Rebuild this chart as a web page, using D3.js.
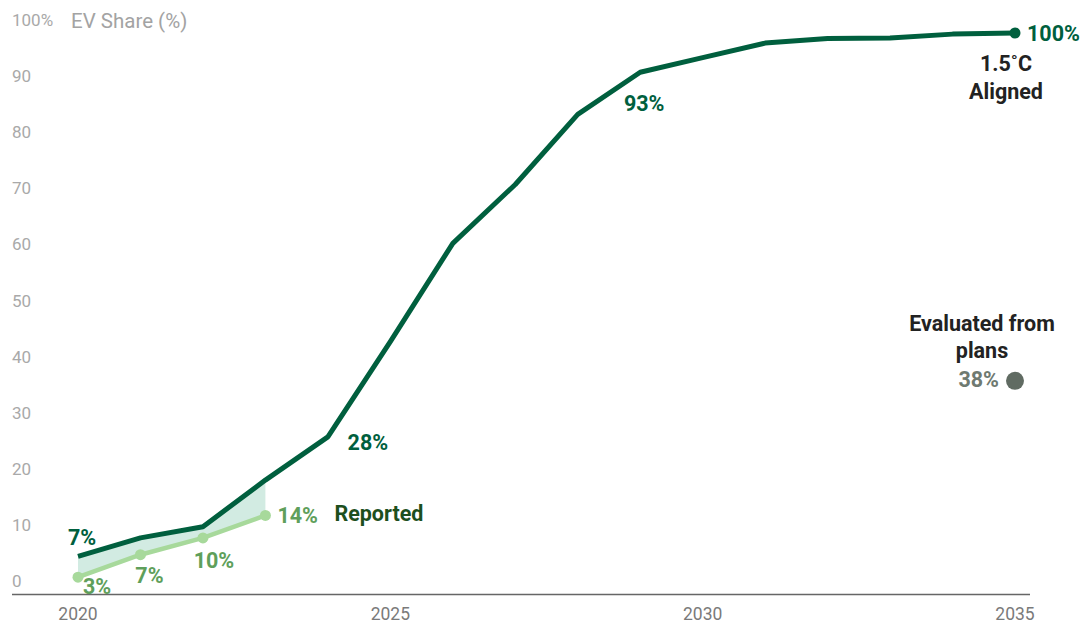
<!DOCTYPE html>
<html>
<head>
<meta charset="utf-8">
<script src="https://cdn.jsdelivr.net/npm/d3@7"></script>
<style>
  body { margin: 0; background: #fff; }
  svg { font-family: Roboto, "Noto Sans", sans-serif; }
</style>
</head>
<body>
<div id="chart"></div>
<script>
// 1.5C aligned pathway, 2020-2035
const years = [2020, 2021, 2022, 2023, 2024, 2025, 2026, 2027, 2028, 2029, 2030, 2031, 2032, 2033, 2034, 2035];
const aligned = [6.7, 10, 12, 20.3, 28, 45, 62.5, 73, 85.5, 93, 95.6, 98.2, 99, 99.1, 99.8, 100];
// reported EV share
const reportedYears = [2020, 2021, 2022, 2023];
const reported = [3, 7, 10, 14];
// plans
const planYear = 2035, planValue = 38;
const yTicks = [0, 10, 20, 30, 40, 50, 60, 70, 80, 90, 100];
const xTicks = [2020, 2025, 2030, 2035];

const width = 1086, height = 625;
const dark = "#005f3e", light = "#a7d99b", lightText = "#5f9f5b";

const svg = d3.select("#chart").append("svg")
  .attr("width", width).attr("height", height);

const x = d3.scaleLinear().domain([2020, 2035]).range([78, 1015]);
const y = d3.scaleLinear().domain([0, 100]).range([594, 33]);

// y tick labels (no gridlines)
svg.append("g").selectAll("text").data(yTicks).join("text")
  .attr("x", 12).attr("y", d => y(d) - 7)
  .attr("fill", "#a9a9a9").attr("font-size", 17)
  .text(d => d === 100 ? "100%" : d);

svg.append("text").attr("x", 71).attr("y", 28)
  .attr("fill", "#a3a3a3").attr("font-size", 20.5)
  .text("EV Share (%)");

// x axis
svg.append("line").attr("x1", 12).attr("x2", 1030)
  .attr("y1", 594.5).attr("y2", 594.5)
  .attr("stroke", "#666").attr("stroke-width", 1.5);
svg.append("g").selectAll("text").data(xTicks).join("text")
  .attr("x", d => x(d)).attr("y", 620)
  .attr("text-anchor", "middle").attr("fill", "#7a7a7a").attr("font-size", 17.5)
  .text(d => d);

// gap area between aligned and reported
const gap = reportedYears.map((yr, i) => ({ yr, lo: reported[i], hi: aligned[years.indexOf(yr)] }));
svg.append("path").datum(gap)
  .attr("fill", "#d2ebe2")
  .attr("d", d3.area().x(d => x(d.yr)).y0(d => y(d.lo)).y1(d => y(d.hi)));

// reported line
const repData = reportedYears.map((yr, i) => [yr, reported[i]]);
svg.append("path").datum(repData)
  .attr("fill", "none").attr("stroke", light).attr("stroke-width", 4.5)
  .attr("stroke-linejoin", "round")
  .attr("d", d3.line().x(d => x(d[0])).y(d => y(d[1])));
svg.append("g").selectAll("circle").data(repData).join("circle")
  .attr("cx", d => x(d[0])).attr("cy", d => y(d[1])).attr("r", 5.5)
  .attr("fill", light);

// aligned line
const alData = years.map((yr, i) => [yr, aligned[i]]);
svg.append("path").datum(alData)
  .attr("fill", "none").attr("stroke", dark).attr("stroke-width", 5)
  .attr("stroke-linejoin", "round")
  .attr("d", d3.line().x(d => x(d[0])).y(d => y(d[1])));
svg.append("circle").attr("cx", x(2035)).attr("cy", y(100)).attr("r", 5.5).attr("fill", dark);

// plans dot
svg.append("circle").attr("cx", x(planYear)).attr("cy", y(planValue)).attr("r", 9).attr("fill", "#606b62");

// value labels
const lab = (tx, ty, txt, color, anchor) => svg.append("text")
  .attr("x", tx).attr("y", ty).attr("fill", color)
  .attr("font-size", 21.5).attr("font-weight", 700)
  .attr("text-anchor", anchor || "middle").attr("dominant-baseline", "central")
  .text(txt);

const av = yr => aligned[years.indexOf(yr)];
lab(x(2020) + 4, y(av(2020)) - 19, "7%", dark);
lab(x(2024) + 40, y(av(2024)) + 6, "28%", dark);
lab(x(2029) + 4, y(av(2029)) + 31, "93%", dark);
lab(x(2035) + 12, y(100), "100%", dark, "start");
lab(x(2035) - 9, y(100) + 30, "1.5˚C", "#222");
lab(x(2035) - 9, y(100) + 58, "Aligned", "#222");

lab(x(2020) + 19, y(reported[0]) + 9, "3%", lightText);
lab(x(2021) + 9, y(reported[1]) + 21, "7%", lightText);
lab(x(2022) + 11, y(reported[2]) + 23, "10%", lightText);
lab(x(2023) + 12, y(reported[3]), "14%", lightText, "start");
lab(x(2023) + 69, y(reported[3]) - 2, "Reported", "#1d4f1d", "start");

lab(x(planYear) - 33, y(planValue) - 57, "Evaluated from", "#222");
lab(x(planYear) - 33, y(planValue) - 30, "plans", "#222");
lab(x(planYear) - 16, y(planValue) - 1, "38%", "#6f7a71", "end");
</script>
</body>
</html>
